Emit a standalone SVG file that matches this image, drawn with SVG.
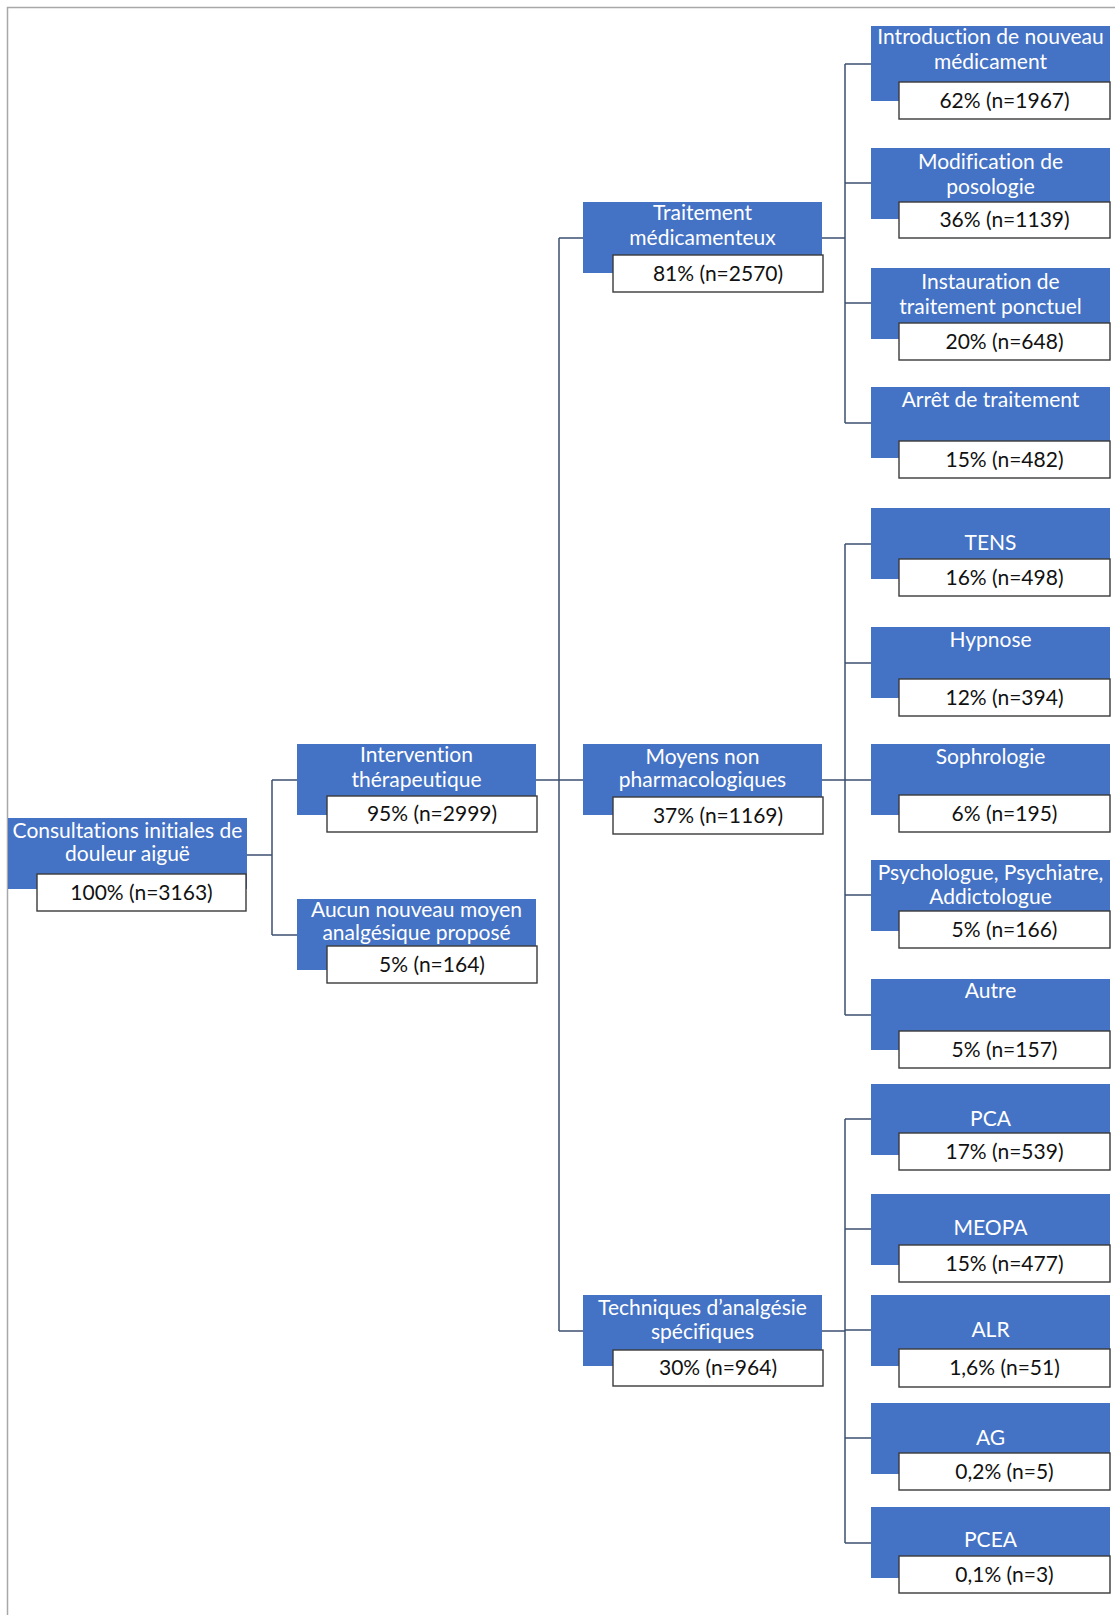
<svg xmlns="http://www.w3.org/2000/svg" width="1115" height="1615" viewBox="0 0 1115 1615">
<style>
.b{fill:#4472C4}
.w{fill:#ffffff;stroke:#3a3a3a;stroke-width:1.4}
.bt{font-family:Lato,"Liberation Sans",sans-serif;font-size:21px;fill:#ffffff;text-anchor:middle;font-variant-ligatures:none}
.wt{font-family:Lato,"Liberation Sans",sans-serif;font-size:21px;fill:#111111;text-anchor:middle;font-variant-ligatures:none}
.c{fill:none;stroke:#3d4f70;stroke-width:1.5}
</style>
<rect width="1115" height="1615" fill="#ffffff"/>
<path d="M7.5 1615 V7.5 H1115" fill="none" stroke="#a8a8a8" stroke-width="1.5"/>
<g id="connectors" class="c">
<path d="M247 855 H272 M272 780 V935 M272 780 H297 M272 935 H297"/>
<path d="M536 780 H559 M559 238 V1331 M559 238 H583 M559 780 H583 M559 1331 H583"/>
<path d="M822 238 H845 M845 64 V423 M845 64 H871 M845 183 H871 M845 303 H871 M845 423 H871"/>
<path d="M822 780 H845 M845 544 V1015 M845 544 H871 M845 663 H871 M845 780 H871 M845 895 H871 M845 1015 H871"/>
<path d="M822 1331 H845 M845 1119 V1543 M845 1119 H871 M845 1229 H871 M845 1330 H871 M845 1438 H871 M845 1543 H871"/>
</g>
<g id="n-root">
<rect class="b" x="8" y="818" width="239" height="71"/>
<rect class="w" x="37" y="874" width="209" height="37"/>
<text class="bt" x="127.5" y="838">Consultations initiales de</text>
<text class="bt" x="127.5" y="861">douleur aiguë</text>
<text class="wt" x="141.5" y="900">100% (n=3163)</text>
</g>
<g id="n-intervention">
<rect class="b" x="297" y="744" width="239" height="71"/>
<rect class="w" x="327" y="796" width="210" height="36"/>
<text class="bt" x="416.5" y="762">Intervention</text>
<text class="bt" x="416.5" y="787">thérapeutique</text>
<text class="wt" x="432" y="821">95% (n=2999)</text>
</g>
<g id="n-aucun">
<rect class="b" x="297" y="899" width="239" height="71"/>
<rect class="w" x="327" y="946" width="210" height="37"/>
<text class="bt" x="416.5" y="917">Aucun nouveau moyen</text>
<text class="bt" x="416.5" y="940">analgésique proposé</text>
<text class="wt" x="432" y="972">5% (n=164)</text>
</g>
<g id="n-traitement">
<rect class="b" x="583" y="202" width="239" height="71"/>
<rect class="w" x="613" y="255" width="210" height="37"/>
<text class="bt" x="702.5" y="220">Traitement</text>
<text class="bt" x="702.5" y="245">médicamenteux</text>
<text class="wt" x="718" y="280.5">81% (n=2570)</text>
</g>
<g id="n-moyens">
<rect class="b" x="583" y="744" width="239" height="71"/>
<rect class="w" x="613" y="797" width="210" height="37"/>
<text class="bt" x="702.5" y="764">Moyens non</text>
<text class="bt" x="702.5" y="787">pharmacologiques</text>
<text class="wt" x="718" y="822.5">37% (n=1169)</text>
</g>
<g id="n-techniques">
<rect class="b" x="583" y="1295" width="239" height="71"/>
<rect class="w" x="613" y="1350" width="210" height="36"/>
<text class="bt" x="702.5" y="1315">Techniques d’analgésie</text>
<text class="bt" x="702.5" y="1339">spécifiques</text>
<text class="wt" x="718" y="1375">30% (n=964)</text>
</g>
<g id="n-introduction">
<rect class="b" x="871" y="26" width="239" height="75"/>
<rect class="w" x="899" y="82" width="211" height="37"/>
<text class="bt" x="990.5" y="44">Introduction de nouveau</text>
<text class="bt" x="990.5" y="69">médicament</text>
<text class="wt" x="1004.5" y="107.5">62% (n=1967)</text>
</g>
<g id="n-modification">
<rect class="b" x="871" y="148" width="239" height="71"/>
<rect class="w" x="899" y="202" width="211" height="36"/>
<text class="bt" x="990.5" y="169">Modification de</text>
<text class="bt" x="990.5" y="194">posologie</text>
<text class="wt" x="1004.5" y="227">36% (n=1139)</text>
</g>
<g id="n-instauration">
<rect class="b" x="871" y="268" width="239" height="71"/>
<rect class="w" x="899" y="323" width="211" height="37"/>
<text class="bt" x="990.5" y="289">Instauration de</text>
<text class="bt" x="990.5" y="314">traitement ponctuel</text>
<text class="wt" x="1004.5" y="348.5">20% (n=648)</text>
</g>
<g id="n-arret">
<rect class="b" x="871" y="387" width="239" height="71"/>
<rect class="w" x="899" y="441" width="211" height="37"/>
<text class="bt" x="990.5" y="407">Arrêt de traitement</text>
<text class="wt" x="1004.5" y="466.5">15% (n=482)</text>
</g>
<g id="n-tens">
<rect class="b" x="871" y="508" width="239" height="71"/>
<rect class="w" x="899" y="559" width="211" height="37"/>
<text class="bt" x="990.5" y="550">TENS</text>
<text class="wt" x="1004.5" y="584.5">16% (n=498)</text>
</g>
<g id="n-hypnose">
<rect class="b" x="871" y="627" width="239" height="71"/>
<rect class="w" x="899" y="679" width="211" height="37"/>
<text class="bt" x="990.5" y="647">Hypnose</text>
<text class="wt" x="1004.5" y="704.5">12% (n=394)</text>
</g>
<g id="n-sophrologie">
<rect class="b" x="871" y="744" width="239" height="71"/>
<rect class="w" x="899" y="795" width="211" height="37"/>
<text class="bt" x="990.5" y="764">Sophrologie</text>
<text class="wt" x="1004.5" y="820.5">6% (n=195)</text>
</g>
<g id="n-psychologue">
<rect class="b" x="871" y="860" width="239" height="71"/>
<rect class="w" x="899" y="911" width="211" height="37"/>
<text class="bt" x="990.5" y="880">Psychologue, Psychiatre,</text>
<text class="bt" x="990.5" y="904">Addictologue</text>
<text class="wt" x="1004.5" y="936.5">5% (n=166)</text>
</g>
<g id="n-autre">
<rect class="b" x="871" y="979" width="239" height="71"/>
<rect class="w" x="899" y="1031" width="211" height="37"/>
<text class="bt" x="990.5" y="998">Autre</text>
<text class="wt" x="1004.5" y="1056.5">5% (n=157)</text>
</g>
<g id="n-pca">
<rect class="b" x="871" y="1084" width="239" height="71"/>
<rect class="w" x="899" y="1133" width="211" height="37"/>
<text class="bt" x="990.5" y="1126">PCA</text>
<text class="wt" x="1004.5" y="1158.5">17% (n=539)</text>
</g>
<g id="n-meopa">
<rect class="b" x="871" y="1194" width="239" height="71"/>
<rect class="w" x="899" y="1245" width="211" height="37"/>
<text class="bt" x="990.5" y="1235">MEOPA</text>
<text class="wt" x="1004.5" y="1270.5">15% (n=477)</text>
</g>
<g id="n-alr">
<rect class="b" x="871" y="1295" width="239" height="71"/>
<rect class="w" x="899" y="1349" width="211" height="38"/>
<text class="bt" x="990.5" y="1337">ALR</text>
<text class="wt" x="1004.5" y="1375">1,6% (n=51)</text>
</g>
<g id="n-ag">
<rect class="b" x="871" y="1403" width="239" height="71"/>
<rect class="w" x="899" y="1453" width="211" height="37"/>
<text class="bt" x="990.5" y="1445">AG</text>
<text class="wt" x="1004.5" y="1478.5">0,2% (n=5)</text>
</g>
<g id="n-pcea">
<rect class="b" x="871" y="1507" width="239" height="71"/>
<rect class="w" x="899" y="1556" width="211" height="37"/>
<text class="bt" x="990.5" y="1547">PCEA</text>
<text class="wt" x="1004.5" y="1581.5">0,1% (n=3)</text>
</g>
</svg>
